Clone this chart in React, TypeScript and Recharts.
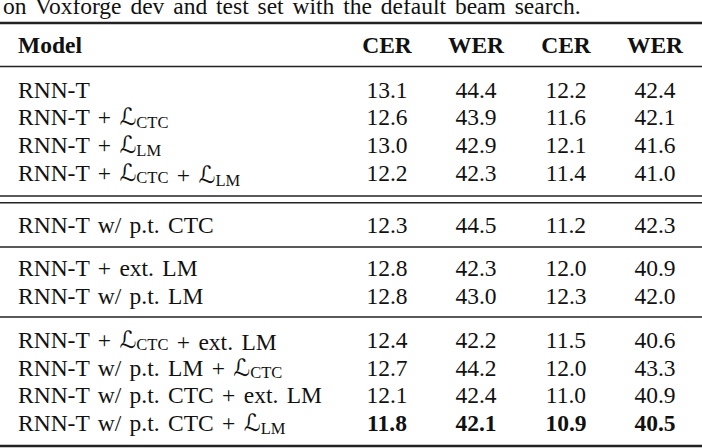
import { ScatterChart, Scatter, XAxis, YAxis, ReferenceLine, Customized } from 'recharts';

// Results table: RNN-T variants on Voxforge dev / test
const headers = ['Model', 'CER', 'WER', 'CER', 'WER'];
const models = [
  'RNN-T',
  'RNN-T + ℒ_CTC',
  'RNN-T + ℒ_LM',
  'RNN-T + ℒ_CTC + ℒ_LM',
  'RNN-T w/ p.t. CTC',
  'RNN-T + ext. LM',
  'RNN-T w/ p.t. LM',
  'RNN-T + ℒ_CTC + ext. LM',
  'RNN-T w/ p.t. LM + ℒ_CTC',
  'RNN-T w/ p.t. CTC + ext. LM',
  'RNN-T w/ p.t. CTC + ℒ_LM',
];
const devCER = [13.1, 12.6, 13.0, 12.2, 12.3, 12.8, 12.8, 12.4, 12.7, 12.1, 11.8];
const devWER = [44.4, 43.9, 42.9, 42.3, 44.5, 42.3, 43.0, 42.2, 44.2, 42.4, 42.1];
const testCER = [12.2, 11.6, 12.1, 11.4, 11.2, 12.0, 12.3, 11.5, 12.0, 11.0, 10.9];
const testWER = [42.4, 42.1, 41.6, 41.0, 42.3, 40.9, 42.0, 40.6, 43.3, 40.9, 40.5];
const groupSizes = [4, 1, 2, 4];
const bestRow = 10;
const caption = 'on Voxforge dev and test set with the default beam search.';

const W = 702;
const H = 448;
const FONT = '"Liberation Serif", "Times New Roman", serif';
const FS = 23.5;
const SUB_FS = 16.5;
const INK = '#111';

// layout
const modelX = 18;
const colX = [387, 476, 566, 655];
const headerY = 44.5;
const topRule = 23;
const headerRule = 66.5;
const groupBottoms = [196, 247, 317, 446];
const doubleGap = 6.7;
const rowStep = 27.7;

const rowY: number[] = [];
{
  let top = headerRule;
  groupSizes.forEach((n, g) => {
    if (g === 1) top += doubleGap;
    const bottom = groupBottoms[g];
    const pad = (bottom - top - n * rowStep) / 2;
    for (let k = 0; k < n; k++) rowY.push(top + pad + rowStep * (k + 0.5));
    top = bottom;
  });
}

const modelData = models.map((m, i) => ({ x: modelX, y: rowY[i], label: m, bold: false, anchor: 'start' }));
const headerData = headers.map((h, i) => ({
  x: i === 0 ? modelX : colX[i - 1],
  y: headerY,
  label: h,
  bold: true,
  anchor: i === 0 ? 'start' : 'middle',
}));
const numCols = [devCER, devWER, testCER, testWER].map((vals, c) =>
  vals.map((v, i) => ({ x: colX[c], y: rowY[i], label: v.toFixed(1), bold: i === bestRow, anchor: 'middle' }))
);

const renderLabel = (label: string) => {
  const parts = label.split(/(ℒ_CTC|ℒ_LM)/);
  return parts.map((p, i) => {
    if (p.startsWith('ℒ_')) {
      return [
        <tspan key={i + 'a'} fontFamily='"DejaVu Serif", "DejaVu Sans", serif' fontStyle="italic">ℒ</tspan>,
        <tspan key={i + 'b'} fontSize={SUB_FS} dy={2.5}>{p.slice(2)}</tspan>,
        <tspan key={i + 'c'} dy={-2.5}>{''}</tspan>,
      ];
    }
    return <tspan key={i}>{p}</tspan>;
  });
};

const Cell = (props: any) => {
  const { cx, cy, payload } = props;
  return (
    <text
      x={cx}
      y={cy + 8}
      textAnchor={payload.anchor}
      fontFamily={FONT}
      fontSize={FS}
      fontWeight={payload.bold ? 'bold' : 'normal'}
      fill={INK}
      style={{ wordSpacing: payload.anchor === 'start' ? '2.5px' : '0px' }}
    >
      {renderLabel(payload.label)}
    </text>
  );
};

const Caption = () => (
  <text x={3} y={13.5} fontFamily={FONT} fontSize={FS} fill={INK} style={{ wordSpacing: '3px' }}>
    {caption}
  </text>
);

export default function App() {
  const rules = [
    { y: topRule, w: 2.4 },
    { y: headerRule, w: 1.4 },
    { y: groupBottoms[0], w: 1.4 },
    { y: groupBottoms[0] + doubleGap, w: 1.4 },
    { y: groupBottoms[1], w: 1.4 },
    { y: groupBottoms[2], w: 1.4 },
    { y: groupBottoms[3], w: 2.4 },
  ];
  return (
    <div style={{ position: 'absolute', left: 0, top: 0, background: '#fff' }}>
      <ScatterChart width={W} height={H} margin={{ top: 0, right: 0, bottom: 0, left: 0 }}>
        <XAxis type="number" dataKey="x" domain={[0, W]} hide />
        <YAxis type="number" dataKey="y" domain={[0, H]} reversed hide />
        {rules.map((r, i) => (
          <ReferenceLine key={i} y={r.y} stroke="#222" strokeWidth={r.w} ifOverflow="extendDomain" />
        ))}
        <Customized component={Caption} />
        <Scatter data={headerData} shape={Cell} isAnimationActive={false} />
        <Scatter data={modelData} shape={Cell} isAnimationActive={false} />
        {numCols.map((d, i) => (
          <Scatter key={i} data={d} shape={Cell} isAnimationActive={false} />
        ))}
      </ScatterChart>
    </div>
  );
}
